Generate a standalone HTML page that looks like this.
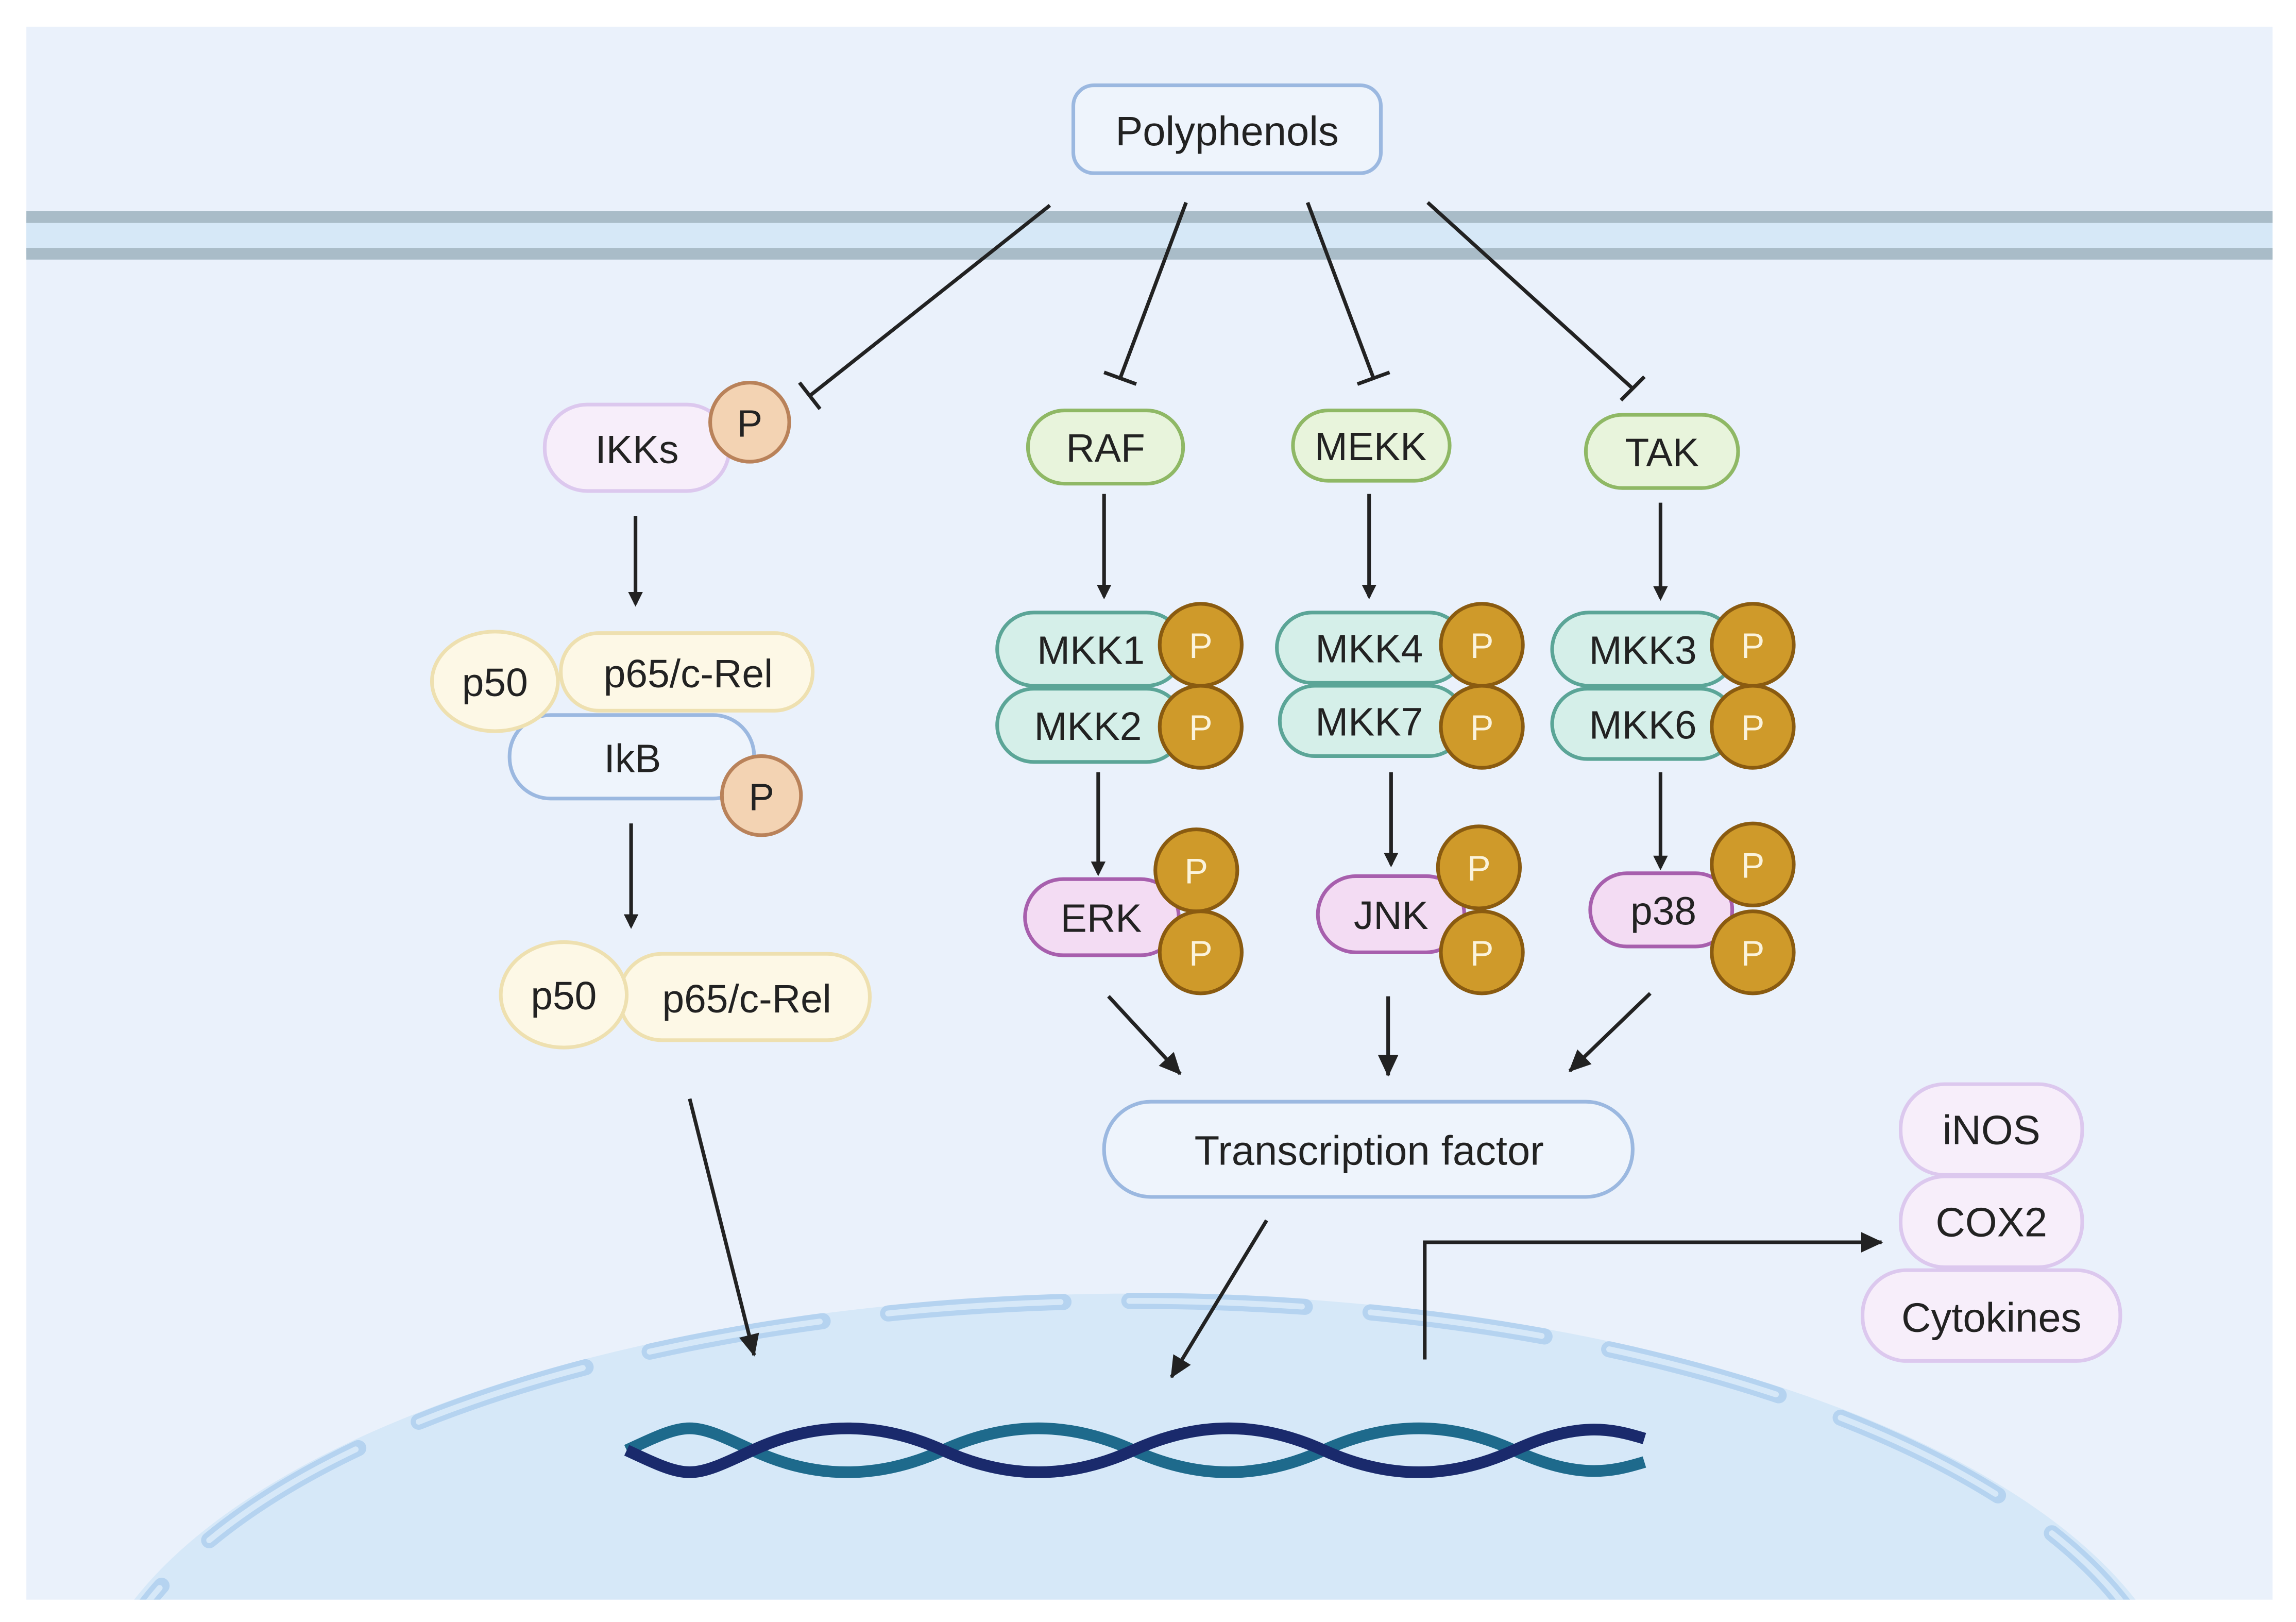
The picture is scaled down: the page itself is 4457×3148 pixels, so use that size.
<!DOCTYPE html>
<html><head><meta charset="utf-8"><style>
html,body{margin:0;padding:0;background:#fff;width:4457px;height:3148px;overflow:hidden;position:relative;}
svg{display:block;position:absolute;left:0;top:0;}
text{font-family:"Liberation Sans",sans-serif;}
</style></head><body>
<svg width="4457" height="3148" viewBox="0 0 1568 1107" xmlns="http://www.w3.org/2000/svg" overflow="hidden">
<defs>
<marker id="ar" markerWidth="10" markerHeight="10" refX="8" refY="5" orient="auto" markerUnits="userSpaceOnUse" viewBox="0 0 10 10">
<path d="M0,0 L10,5 L0,10 z" fill="#222"/></marker>
<marker id="ar2" markerWidth="16" markerHeight="16" refX="14" refY="8" orient="auto" markerUnits="userSpaceOnUse" viewBox="0 0 16 16">
<path d="M0,1 L15,8 L0,15 z" fill="#222"/></marker>
<clipPath id="pc"><rect x="18" y="18" width="1534" height="1074"/></clipPath>
</defs>
<rect width="1568" height="1107" fill="#fff"/>
<rect x="18" y="18" width="1534" height="1074" fill="#eaf1fb"/>
<rect x="18" y="148" width="1534" height="25" fill="#d6e8f7"/>
<rect x="18" y="144" width="1534" height="8" fill="#a9bcc8"/>
<rect x="18" y="169" width="1534" height="8" fill="#a9bcc8"/>
<g clip-path="url(#pc)">
<ellipse cx="775" cy="1188" rx="720" ry="305" fill="#d6e8f8"/>
<ellipse cx="775" cy="1188" rx="710" ry="300" fill="none" stroke="#b5d3f0" stroke-width="11" stroke-linecap="round" stroke-dasharray="120 45"/>
<ellipse cx="775" cy="1188" rx="710" ry="300" fill="none" stroke="#d6e8f8" stroke-width="4" stroke-linecap="round" stroke-dasharray="118 47"/>
</g>
<path d="M428,990 C471,970 471,970 514,990 S600,1010 644,990 S730,970 774,990 S860,1010 904,990 S990,970 1034,990 S1100,1005 1123,998" fill="none" stroke="#1e6a8c" stroke-width="8"/>
<path d="M428,990 C471,1010 471,1010 514,990 S600,970 644,990 S730,1010 774,990 S860,970 904,990 S990,1010 1034,990 S1100,975 1123,982" fill="none" stroke="#1a2a6c" stroke-width="8"/>

<rect x="733" y="58" width="210" height="60" rx="14" fill="#eef4fc" stroke="#9bb8e0" stroke-width="2.5"/>
<text x="838" y="99" font-size="28" text-anchor="middle" fill="#222">Polyphenols</text>
<g stroke="#222" stroke-width="2.5" fill="none">
<line x1="717" y1="140" x2="553" y2="270"/><line x1="546" y1="261" x2="560" y2="279"/>
<line x1="810" y1="138" x2="765" y2="258"/><line x1="754" y1="254" x2="776" y2="262"/>
<line x1="893" y1="138" x2="938" y2="258"/><line x1="927" y1="262" x2="949" y2="254"/>
<line x1="975" y1="138" x2="1115" y2="265"/><line x1="1107" y1="273" x2="1123" y2="257"/>
</g>
<g stroke="#222" stroke-width="2.5" fill="none" marker-end="url(#ar)">
<line x1="434" y1="352" x2="434" y2="412"/>
<line x1="431" y1="562" x2="431" y2="632"/>
<line x1="754" y1="337" x2="754" y2="407"/>
<line x1="935" y1="337" x2="935" y2="407"/>
<line x1="1134" y1="343" x2="1134" y2="408"/>
<line x1="750" y1="527" x2="750" y2="596"/>
<line x1="950" y1="527" x2="950" y2="590"/>
<line x1="1134" y1="527" x2="1134" y2="592"/>
</g>
<g stroke="#222" stroke-width="2.5" fill="none" marker-end="url(#ar2)">
<line x1="471" y1="750" x2="515" y2="925"/>
<line x1="757" y1="680" x2="806" y2="733"/>
<line x1="948" y1="680" x2="948" y2="734"/>
<line x1="1127" y1="678" x2="1072" y2="731"/>
<line x1="865" y1="833" x2="800" y2="940"/>
<polyline points="973,928 973,848 1285,848"/>
</g>

<rect x="372" y="276" width="126" height="59" rx="29" fill="#f7eefa" stroke="#dcc8ee" stroke-width="2.5"/>
<text x="435" y="316" font-size="27" text-anchor="middle" fill="#222">IKKs</text>
<circle cx="512" cy="288" r="27" fill="#f3d3b3" stroke="#b9825a" stroke-width="2.5"/>
<text x="512" y="298" font-size="26" text-anchor="middle" fill="#222">P</text>
<rect x="348" y="488" width="167" height="57" rx="28" fill="#eef4fc" stroke="#9bb8e0" stroke-width="2.5"/>
<text x="432" y="527" font-size="27" text-anchor="middle" fill="#222">IkB</text>
<rect x="383" y="432" width="172" height="53" rx="26" fill="#fdf8e6" stroke="#eee0b0" stroke-width="2.5"/>
<text x="470" y="469" font-size="27" text-anchor="middle" fill="#222">p65/c-Rel</text>
<ellipse cx="338" cy="465" rx="43" ry="34" fill="#fdf8e6" stroke="#eee0b0" stroke-width="2.5"/>
<text x="338" y="475" font-size="27" text-anchor="middle" fill="#222">p50</text>
<circle cx="520" cy="543" r="27" fill="#f3d3b3" stroke="#b9825a" stroke-width="2.5"/>
<text x="520" y="553" font-size="26" text-anchor="middle" fill="#222">P</text>
<rect x="423" y="651" width="171" height="59" rx="29" fill="#fdf8e6" stroke="#eee0b0" stroke-width="2.5"/>
<text x="510" y="691" font-size="27" text-anchor="middle" fill="#222">p65/c-Rel</text>
<ellipse cx="385" cy="679" rx="43" ry="36" fill="#fdf8e6" stroke="#eee0b0" stroke-width="2.5"/>
<text x="385" y="689" font-size="27" text-anchor="middle" fill="#222">p50</text>

<g fill="#e8f4dc" stroke="#8fb865" stroke-width="2.5">
<rect x="702" y="280" width="106" height="50" rx="25"/>
<rect x="883" y="280" width="107" height="48" rx="24"/>
<rect x="1083" y="283" width="104" height="50" rx="25"/>
</g>
<g font-size="27" text-anchor="middle" fill="#222">
<text x="755" y="315">RAF</text><text x="936" y="314">MEKK</text><text x="1135" y="318">TAK</text>
</g>
<g fill="#d5efe9" stroke="#5ba597" stroke-width="2.5">
<rect x="681" y="418" width="127" height="50" rx="25"/><rect x="681" y="470" width="127" height="50" rx="25"/>
<rect x="872" y="418" width="128" height="48" rx="24"/><rect x="874" y="468" width="126" height="48" rx="24"/>
<rect x="1060" y="418" width="125" height="50" rx="25"/><rect x="1060" y="470" width="125" height="48" rx="24"/>
</g>
<g font-size="27" text-anchor="middle" fill="#222">
<text x="745" y="453">MKK1</text><text x="743" y="505">MKK2</text>
<text x="935" y="452">MKK4</text><text x="935" y="502">MKK7</text>
<text x="1122" y="453">MKK3</text><text x="1122" y="504">MKK6</text>
</g>
<g fill="#f3dcf3" stroke="#a75fad" stroke-width="2.5">
<rect x="700" y="600" width="105" height="52" rx="26"/>
<rect x="900" y="598" width="100" height="52" rx="26"/>
<rect x="1086" y="596" width="97" height="50" rx="25"/>
</g>
<g font-size="27" text-anchor="middle" fill="#222">
<text x="752" y="636">ERK</text><text x="950" y="634">JNK</text><text x="1136" y="631">p38</text>
</g>
<g fill="#cf9a2a" stroke="#8a5b10" stroke-width="2.5">
<circle cx="820" cy="440" r="28"/><circle cx="820" cy="496" r="28"/>
<circle cx="1012" cy="440" r="28"/><circle cx="1012" cy="496" r="28"/>
<circle cx="1197" cy="440" r="28"/><circle cx="1197" cy="496" r="28"/>
<circle cx="817" cy="594" r="28"/><circle cx="820" cy="650" r="28"/>
<circle cx="1010" cy="592" r="28"/><circle cx="1012" cy="650" r="28"/>
<circle cx="1197" cy="590" r="28"/><circle cx="1197" cy="650" r="28"/>
</g>
<g font-size="24" text-anchor="middle" fill="#fbf3dc">
<text x="820" y="449">P</text><text x="820" y="505">P</text>
<text x="1012" y="449">P</text><text x="1012" y="505">P</text>
<text x="1197" y="449">P</text><text x="1197" y="505">P</text>
<text x="817" y="603">P</text><text x="820" y="659">P</text>
<text x="1010" y="601">P</text><text x="1012" y="659">P</text>
<text x="1197" y="599">P</text><text x="1197" y="659">P</text>
</g>
<rect x="754" y="752" width="361" height="65" rx="32" fill="#eef4fc" stroke="#9bb8e0" stroke-width="2.5"/>
<text x="935" y="795" font-size="28" text-anchor="middle" fill="#222">Transcription factor</text>
<g fill="#f7eefa" stroke="#dcc8ee" stroke-width="2.5">
<rect x="1272" y="867" width="176" height="62" rx="30"/>
<rect x="1298" y="803" width="124" height="62" rx="30"/>
<rect x="1298" y="740" width="124" height="62" rx="30"/>
</g>
<g font-size="28" text-anchor="middle" fill="#222">
<text x="1360" y="781">iNOS</text><text x="1360" y="844">COX2</text><text x="1360" y="909">Cytokines</text>
</g>
</svg>
</body></html>
